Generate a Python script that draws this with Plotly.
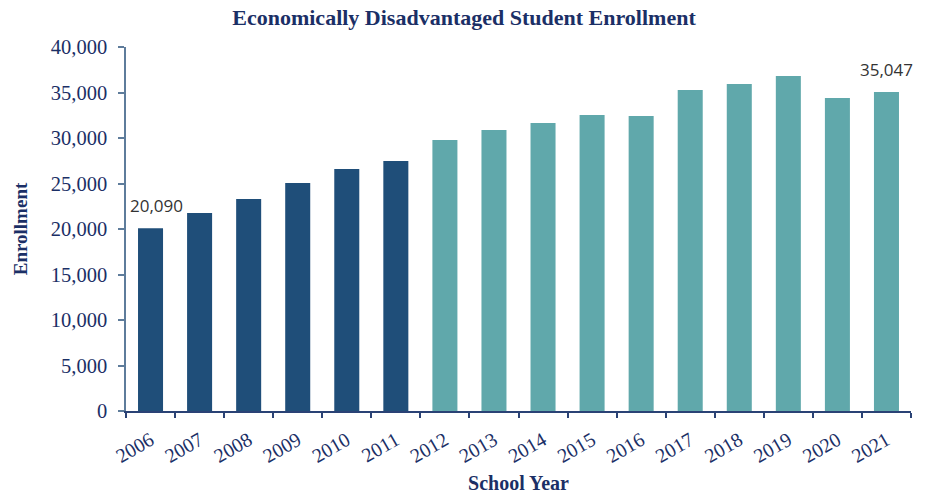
import plotly.graph_objects as go

# School years and economically disadvantaged student counts
years = ["2006", "2007", "2008", "2009", "2010", "2011", "2012", "2013",
         "2014", "2015", "2016", "2017", "2018", "2019", "2020", "2021"]
enrollment = [20090, 21760, 23300, 25050, 26600, 27480, 29780, 30880,
              31650, 32530, 32420, 35280, 35930, 36810, 34400, 35047]

# Earlier years in dark blue, later years in teal
split_year = "2012"
dark_blue = "#1F4E79"
teal = "#60A8AB"
bar_colors = [dark_blue if y < split_year else teal for y in years]

navy = "#1B2F66"
serif = "Liberation Serif, Times New Roman, serif"

fig = go.Figure(
    go.Bar(
        x=years,
        y=enrollment,
        marker=dict(color=bar_colors, line=dict(width=0)),
        width=0.51,
        hoverinfo="x+y",
    )
)

# Value labels on the first and last years (category index positions)
for idx, dx in ((0, 6), (len(years) - 1, 0)):
    fig.add_annotation(
        x=idx,
        y=enrollment[idx],
        text=f"{enrollment[idx]:,}",
        showarrow=False,
        xanchor="center",
        yanchor="bottom",
        xshift=dx,
        yshift=9,
        font=dict(family="Open Sans, sans-serif", size=17, color="#333333"),
    )

fig.update_layout(
    width=928,
    height=496,
    margin=dict(l=126, r=17, t=47, b=85),
    paper_bgcolor="white",
    plot_bgcolor="white",
    showlegend=False,
    title=dict(
        text="<b>Economically Disadvantaged Student Enrollment</b>",
        font=dict(family=serif, size=22, color=navy),
        x=0.5,
        xanchor="center",
        y=0.965,
        yanchor="middle",
    ),
    xaxis=dict(
        type="category",
        categoryorder="array",
        categoryarray=years,
        range=[-0.5, len(years) - 0.5],
        automargin=False,
        tickangle=-30,
        tickson="boundaries",
        ticks="outside",
        ticklen=5,
        tickcolor="#2A4275",
        tickwidth=1.5,
        ticklabelstandoff=8,
        showline=True,
        linecolor="#2A4275",
        linewidth=1.5,
        showgrid=False,
        tickfont=dict(family=serif, size=20, color=navy),
        title=dict(
            text="<b>School Year</b>",
            font=dict(family=serif, size=20, color=navy),
            standoff=10,
        ),
    ),
    yaxis=dict(
        range=[0, 40000],
        tick0=0,
        dtick=5000,
        tickformat=",d",
        automargin=False,
        ticks="outside",
        ticklen=6,
        tickcolor="#5E7C9B",
        tickwidth=1.5,
        ticklabelstandoff=7,
        showline=True,
        linecolor="#5E7C9B",
        linewidth=1.5,
        showgrid=False,
        zeroline=False,
        tickfont=dict(family=serif, size=20.5, color=navy),
        title=dict(
            text="<b>Enrollment</b>",
            font=dict(family=serif, size=19, color=navy),
            standoff=18,
        ),
    ),
)

fig.write_html("out.html")
